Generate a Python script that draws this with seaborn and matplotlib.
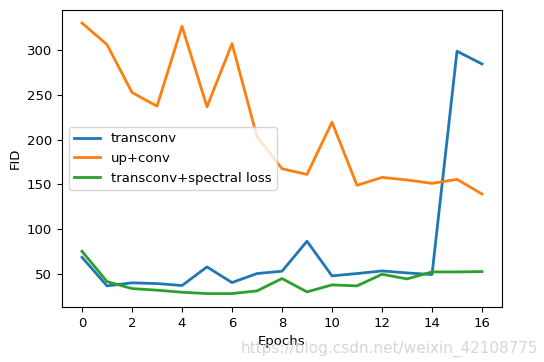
import pandas as pd
import numpy as np
import matplotlib
matplotlib.use('Agg')
import matplotlib.pyplot as plt
import seaborn as sns

epochs = list(range(17))
transconv = [68.6, 36.6, 40.0, 39.2, 37.0, 57.8, 40.3, 50.4, 53.0, 86.5, 47.8, 50.4, 53.3, 51.1, 49.3, 298.9, 284.7]
up_conv = [330.5, 306.3, 252.8, 237.5, 326.8, 236.8, 307.4, 203.3, 167.6, 161.2, 219.6, 149.0, 157.9, 155.0, 151.2, 155.7, 139.3]
spectral = [75.3, 41.4, 33.6, 31.8, 29.5, 28.0, 28.0, 31.0, 44.8, 29.9, 37.7, 36.6, 49.6, 44.4, 52.2, 52.2, 52.6]
labels = ['transconv', 'up+conv', 'transconv+spectral loss']

df = pd.DataFrame({
    'Epochs': epochs * 3,
    'FID': transconv + up_conv + spectral,
    'model': [labels[0]] * 17 + [labels[1]] * 17 + [labels[2]] * 17,
})

plt.rcParams['font.size'] = 9.5

fig = plt.figure(figsize=(5.44, 3.62), dpi=100)
ax = fig.add_axes([62 / 544, 1 - 307 / 362, 440 / 544, 297 / 362])
sns.lineplot(data=df, x='Epochs', y='FID', hue='model',
             palette=['#1f77b4', '#ff7f0e', '#2ca02c'], linewidth=2, ax=ax)
ax.set_xticks(range(0, 17, 2))
ax.set_yticks([50, 100, 150, 200, 250, 300])
ax.set_xlim(-0.8, 16.8)
ax.set_ylim(13, 345)
ax.set_xlabel('Epochs')
ax.set_ylabel('FID')
ax.legend(loc='center left', title=None, fontsize=9.5)

fig.text(0.99, 0.015, 'https://blog.csdn.net/weixin_42108775', ha='right', va='bottom',
         color='#cccccc', fontsize=11, alpha=0.8)
fig.savefig('out.png', dpi=100)
